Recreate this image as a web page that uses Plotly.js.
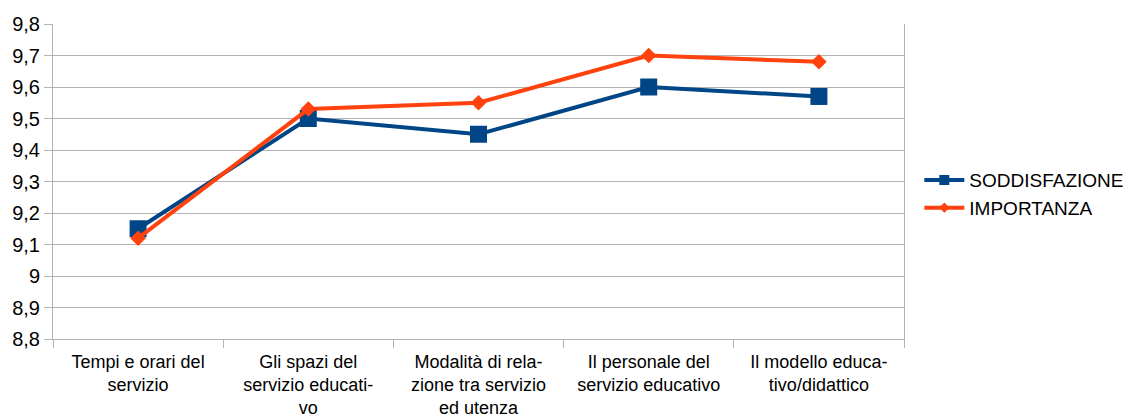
<!DOCTYPE html>
<html>
<head>
<meta charset="utf-8">
<script src="https://cdn.plot.ly/plotly-3.0.1.min.js"></script>
<style>html,body{margin:0;padding:0;background:#fff;}#chart{width:1141px;height:417px;}</style>
</head>
<body>
<div id="chart"></div>
<script>
const categories = [
  "Tempi e orari del<br>servizio",
  "Gli spazi del<br>servizio educati-<br>vo",
  "Modalità di rela-<br>zione tra servizio<br>ed utenza",
  "Il personale del<br>servizio educativo",
  "Il modello educa-<br>tivo/didattico"
];
const soddisfazione = [9.15, 9.50, 9.45, 9.60, 9.57];
const importanza = [9.12, 9.53, 9.55, 9.70, 9.68];
const seriesNames = ["SODDISFAZIONE", "IMPORTANZA"];
const yTickVals = [8.8, 8.9, 9.0, 9.1, 9.2, 9.3, 9.4, 9.5, 9.6, 9.7, 9.8];
const yTickText = ["8,8", "8,9", "9", "9,1", "9,2", "9,3", "9,4", "9,5", "9,6", "9,7", "9,8"];

const blue = "#004586", orange = "#ff420e";
const traces = [
  {
    x: categories, y: soddisfazione, name: seriesNames[0], type: "scatter", mode: "lines+markers",
    showlegend: false,
    line: {color: blue, width: 4},
    marker: {symbol: "square", size: 17, color: blue}
  },
  {
    x: categories, y: importanza, name: seriesNames[1], type: "scatter", mode: "lines+markers",
    showlegend: false,
    line: {color: orange, width: 4},
    marker: {symbol: "diamond", size: 12, color: orange}
  },
  // legend-only entries (smaller legend symbols, as in the reference)
  {
    x: [categories[0]], y: [null], name: seriesNames[0], type: "scatter", mode: "lines+markers",
    line: {color: blue, width: 4}, marker: {symbol: "square", size: 10, color: blue}
  },
  {
    x: [categories[0]], y: [null], name: seriesNames[1], type: "scatter", mode: "lines+markers",
    line: {color: orange, width: 4}, marker: {symbol: "diamond", size: 8, color: orange}
  }
];

const layout = {
  width: 1141, height: 417,
  margin: {l: 53, r: 235, t: 24, b: 78},
  paper_bgcolor: "#ffffff", plot_bgcolor: "#ffffff",
  font: {family: "'Liberation Sans', Arial, sans-serif", size: 18, color: "#000000"},
  showlegend: true,
  legend: {x: 1.018, xanchor: "left", y: 0.46, yanchor: "middle", font: {size: 19}, tracegroupgap: 0, itemwidth: 40,
           bgcolor: "rgba(0,0,0,0)"},
  xaxis: {
    type: "category", range: [-0.5, 4.5], tickson: "boundaries",
    showgrid: false, showline: true, linecolor: "#b3b3b3", linewidth: 1,
    ticks: "outside", ticklen: 8, tickcolor: "#b3b3b3", ticklabelstandoff: 6,
    tickfont: {size: 18}, zeroline: false, fixedrange: true
  },
  yaxis: {
    range: [8.8, 9.8], tickvals: yTickVals, ticktext: yTickText,
    showgrid: true, gridcolor: "#b3b3b3", gridwidth: 1,
    showline: true, linecolor: "#b3b3b3", linewidth: 1, mirror: true,
    ticks: "outside", ticklen: 8, tickcolor: "#b3b3b3",
    tickfont: {size: 20}, zeroline: false, fixedrange: true
  }
};

Plotly.newPlot("chart", traces, layout, {displayModeBar: false, staticPlot: true});
</script>
</body>
</html>
